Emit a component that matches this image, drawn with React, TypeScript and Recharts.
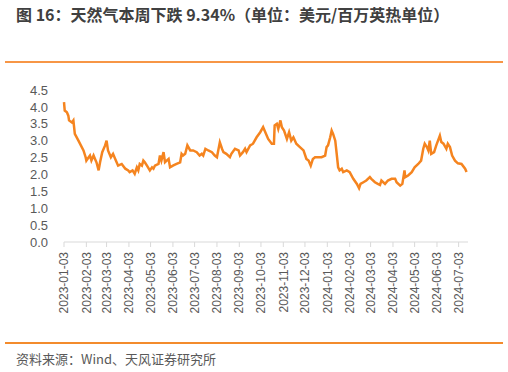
import { Line, LineChart, XAxis, YAxis } from 'recharts'

// days counted from 2023-01-03
const baseDate = '2023-01-03'
const dayOffsets = [
  0, 1, 4, 6, 7, 11, 13, 15, 20, 27, 30, 31, 34, 36, 38, 41, 43, 45, 48, 50,
  53, 57, 59, 61, 65, 68, 71, 75, 80, 85, 89, 91, 95, 98, 101, 103, 105, 108, 110, 112,
  115, 119, 122, 124, 126, 131, 133, 135, 138, 140, 145, 147, 151, 156, 161, 163, 165, 168, 171, 175,
  179, 184, 188, 191, 193, 196, 200, 205, 209, 212, 216, 219, 221, 225, 230, 232, 237, 242, 244, 248,
  251, 253, 258, 262, 267, 272, 276, 278, 283, 288, 291, 292, 295, 297, 300, 302, 305, 309, 312, 315,
  318, 322, 327, 332, 336, 339, 342, 345, 348, 352, 357, 362, 364, 366, 369, 371, 373, 376, 378, 380,
  382, 385, 387, 392, 396, 401, 406, 409, 411, 415, 419, 424, 426, 431, 435, 438, 440, 445, 449, 454,
  459, 461, 466, 469, 472, 473, 477, 482, 486, 491, 495, 498, 500, 503, 505, 507, 509, 513, 516, 521,
  523, 526, 530, 532, 535, 538, 542, 546, 551, 556, 558,
]
const gasPrices = [
  4.14, 3.89, 3.84, 3.74, 3.6, 3.54, 3.6, 3.2, 3.0, 2.71, 2.51, 2.41, 2.5, 2.56, 2.41, 2.56, 2.46, 2.36, 2.12, 2.36,
  2.66, 2.86, 3.0, 2.71, 2.51, 2.61, 2.46, 2.26, 2.31, 2.17, 2.12, 2.07, 2.12, 2.02, 2.21, 2.12, 2.31, 2.26, 2.41, 2.36,
  2.26, 2.12, 2.21, 2.17, 2.26, 2.31, 2.56, 2.41, 2.66, 2.36, 2.46, 2.21, 2.26, 2.31, 2.36, 2.61, 2.56, 2.61, 2.86, 2.71,
  2.71, 2.66, 2.56, 2.61, 2.56, 2.76, 2.71, 2.66, 2.56, 2.51, 2.95, 2.76, 2.66, 2.61, 2.51, 2.61, 2.76, 2.71, 2.56, 2.66,
  2.76, 2.66, 2.86, 2.91, 3.1, 3.25, 3.4, 3.3, 3.05, 2.91, 2.91, 3.45, 3.5, 3.35, 3.6, 3.4, 3.3, 3.05, 3.25, 3.0,
  3.1, 2.91, 2.81, 2.71, 2.46, 2.41, 2.26, 2.46, 2.51, 2.51, 2.51, 2.56, 2.81, 2.86, 3.1, 3.3, 3.2, 3.0, 2.61, 2.21,
  2.12, 2.17, 2.07, 2.12, 2.07, 1.87, 1.72, 1.59, 1.72, 1.77, 1.82, 1.92, 1.87, 1.77, 1.72, 1.69, 1.82, 1.72, 1.82, 1.87,
  1.87, 1.77, 1.67, 1.72, 2.12, 1.92, 1.97, 2.07, 2.21, 2.31, 2.41, 2.76, 2.91, 2.81, 2.71, 3.0, 2.61, 2.66, 2.86, 3.15,
  2.96, 2.91, 2.76, 2.91, 2.81, 2.56, 2.41, 2.33, 2.31, 2.17, 2.07,
]
const tickDates = [
  '2023-01-03', '2023-02-03', '2023-03-03', '2023-04-03', '2023-05-03', '2023-06-03', '2023-07-03',
  '2023-08-03', '2023-09-03', '2023-10-03', '2023-11-03', '2023-12-03', '2024-01-03', '2024-02-03',
  '2024-03-03', '2024-04-03', '2024-05-03', '2024-06-03', '2024-07-03',
]
const yTicks = [0, 0.5, 1, 1.5, 2, 2.5, 3, 3.5, 4, 4.5]
const axisEndDay = 560

const DAY = 86400000
const t0 = Date.parse(baseDate)
const data = dayOffsets.map((d, i) => ({ t: t0 + d * DAY, price: gasPrices[i] }))
const xTicks = tickDates.map((s) => Date.parse(s))

const fmtDate = (t: number) => new Date(t).toISOString().slice(0, 10)

const DateTick = (props: any) => {
  const { x, y, payload } = props
  return (
    <text
      x={x}
      y={y + 3}
      transform={`rotate(-90, ${x}, ${y + 3})`}
      textAnchor="end"
      dy="0.35em"
      fontSize={12}
      fill="#595959"
      fontFamily="'Liberation Sans', Arial, sans-serif"
    >
      {fmtDate(payload.value)}
    </text>
  )
}

export default function App() {
  return (
    <div
      style={{
        position: 'absolute',
        left: 0,
        top: 0,
        width: 508,
        height: 372,
        background: '#fff',
        fontFamily: "'Noto Sans CJK SC', sans-serif",
      }}
    >
      {/* Title */}
      <div
        style={{
          position: 'absolute',
          left: 16,
          top: 2,
          fontSize: 16,
          fontWeight: 700,
          color: '#404040',
          whiteSpace: 'nowrap',
        }}
      >
        图 16：天然气本周下跌 9.34%（单位：美元/百万英热单位）
      </div>
      <div style={{ position: 'absolute', left: 5, top: 61, width: 498, height: 2, background: '#F79646' }} />

      <div style={{ position: 'absolute', left: 0, top: 0 }}>
        <LineChart
          width={508}
          height={372}
          data={data}
          margin={{ top: 90, right: 40, bottom: 50, left: 0 }}
        >
          <XAxis
            dataKey="t"
            type="number"
            domain={[t0, t0 + axisEndDay * DAY]}
            ticks={xTicks}
            interval={0}
            tick={<DateTick />}
            tickSize={5}
            axisLine={{ stroke: '#d9d9d9' }}
            tickLine={{ stroke: '#d9d9d9' }}
            height={80}
          />
          <YAxis
            type="number"
            domain={[0, 4.5]}
            ticks={yTicks}
            interval={0}
            width={64}
            axisLine={false}
            tickLine={false}
            tickSize={0}
            tickMargin={16}
            tickFormatter={(v: number) => v.toFixed(1)}
            tick={{ fontSize: 13, fill: '#595959', fontFamily: "'Liberation Sans', Arial, sans-serif" }}
          />
          <Line
            type="linear"
            dataKey="price"
            stroke="#F5841F"
            strokeWidth={2.5}
            dot={false}
            isAnimationActive={false}
          />
        </LineChart>
      </div>

      <div style={{ position: 'absolute', left: 5, top: 342, width: 498, height: 2, background: '#F38B2C' }} />
      <div
        style={{
          position: 'absolute',
          left: 16,
          top: 349,
          fontSize: 13,
          color: '#595959',
          whiteSpace: 'nowrap',
        }}
      >
        资料来源：Wind、天风证券研究所
      </div>
    </div>
  )
}
